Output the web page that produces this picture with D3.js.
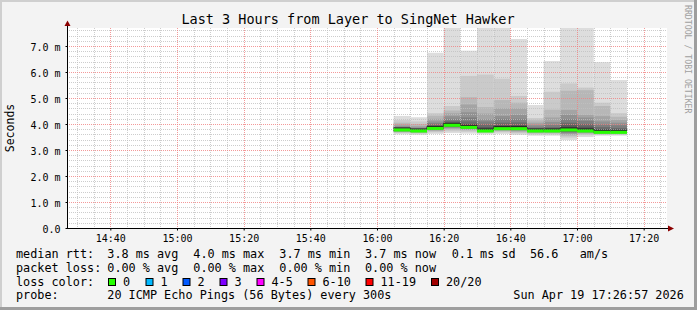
<!DOCTYPE html>
<html>
<head>
<meta charset="utf-8">
<script src="https://cdn.jsdelivr.net/npm/d3@7"></script>
<style>
  body { margin: 0; background: #f3f3f3; }
  text { font-family: "DejaVu Sans Mono", monospace; fill: #000; }
</style>
</head>
<body>
<svg id="chart" width="697" height="310"></svg>
<script>
// 5 minute slots (start time of each smoke bar)
let slotStarts = ["16:05", "16:10", "16:15", "16:20", "16:25", "16:30", "16:35",
                  "16:40", "16:45", "16:50", "16:55", "17:00", "17:05", "17:10"];

// median rtt per slot, ms
let medians = [3.77, 3.73, 3.83, 3.95, 3.87, 3.73, 3.82, 3.82, 3.73, 3.73, 3.77, 3.73, 3.68, 3.68];

// the 20 sorted ping times per slot, ms
let pings = [
  [3.60, 3.65, 3.68, 3.70, 3.72, 3.73, 3.74, 3.75, 3.76, 3.77, 3.78, 3.80, 3.82, 3.85, 3.88, 3.92, 3.98, 4.05, 4.15, 4.31],
  [3.58, 3.63, 3.66, 3.68, 3.69, 3.70, 3.71, 3.72, 3.72, 3.73, 3.74, 3.76, 3.78, 3.80, 3.83, 3.87, 3.92, 4.00, 4.10, 4.26],
  [3.62, 3.68, 3.72, 3.75, 3.77, 3.79, 3.80, 3.81, 3.82, 3.83, 3.85, 3.88, 3.92, 3.97, 4.03, 4.10, 4.20, 4.32, 4.42, 6.74],
  [3.65, 3.72, 3.78, 3.82, 3.85, 3.88, 3.90, 3.91, 3.93, 3.95, 3.97, 4.00, 4.05, 4.12, 4.20, 4.30, 4.41, 4.52, 4.69, 7.90],
  [3.63, 3.70, 3.75, 3.78, 3.80, 3.82, 3.84, 3.85, 3.86, 3.87, 3.89, 3.93, 4.00, 4.10, 4.25, 4.45, 4.75, 5.03, 5.85, 6.82],
  [3.60, 3.65, 3.68, 3.70, 3.71, 3.72, 3.72, 3.73, 3.73, 3.73, 3.75, 3.80, 3.88, 3.98, 4.10, 4.19, 4.40, 4.65, 5.90, 7.90],
  [3.62, 3.68, 3.72, 3.75, 3.77, 3.78, 3.79, 3.80, 3.81, 3.82, 3.83, 3.88, 3.95, 4.05, 4.20, 4.31, 4.60, 4.92, 5.74, 7.90],
  [3.58, 3.64, 3.68, 3.72, 3.75, 3.77, 3.78, 3.79, 3.80, 3.82, 3.83, 3.88, 3.96, 4.06, 4.20, 4.35, 4.60, 4.82, 5.08, 7.27],
  [3.55, 3.60, 3.64, 3.67, 3.69, 3.70, 3.71, 3.72, 3.72, 3.73, 3.74, 3.76, 3.79, 3.84, 3.90, 3.97, 4.05, 4.14, 4.23, 4.73],
  [3.55, 3.60, 3.64, 3.67, 3.69, 3.70, 3.71, 3.72, 3.72, 3.73, 3.75, 3.78, 3.82, 3.88, 3.96, 4.08, 4.25, 4.55, 5.24, 6.42],
  [3.38, 3.48, 3.55, 3.60, 3.64, 3.67, 3.70, 3.72, 3.74, 3.77, 3.80, 3.86, 3.95, 4.05, 4.19, 4.35, 4.54, 5.28, 5.56, 7.90],
  [3.50, 3.57, 3.62, 3.65, 3.68, 3.70, 3.71, 3.72, 3.72, 3.73, 3.76, 3.82, 3.90, 4.00, 4.12, 4.25, 4.35, 5.30, 5.40, 7.90],
  [3.55, 3.59, 3.61, 3.63, 3.65, 3.66, 3.67, 3.67, 3.68, 3.68, 3.70, 3.74, 3.80, 3.88, 3.98, 4.10, 4.30, 4.69, 4.82, 6.38],
  [3.55, 3.59, 3.61, 3.63, 3.65, 3.66, 3.67, 3.67, 3.68, 3.68, 3.70, 3.73, 3.78, 3.85, 3.95, 4.05, 4.15, 4.28, 4.42, 5.69]
];

let yTicks = [0, 1, 2, 3, 4, 5, 6, 7];
let xTickLabels = ["14:40", "15:00", "15:20", "15:40", "16:00", "16:20", "16:40", "17:00", "17:20"];

let lossLabels = ["0", "1", "2", "3", "4-5", "6-10", "11-19", "20/20"];
let lossColors = ["#26ff00", "#00b8ff", "#0059ff", "#7e00ff", "#ff00ff", "#ff5500", "#ff0000", "#a00000"];

let rttStats = ["3.8 ms avg", "4.0 ms max", "3.7 ms min", "3.7 ms now", "0.1 ms sd", "56.6   am/s"];
let lossStats = ["0.00 % avg", "0.00 % max", "0.00 % min", "0.00 % now"];
let probeText = "20 ICMP Echo Pings (56 Bytes) every 300s";
let stampText = "Sun Apr 19 17:26:57 2026";

let W = 697, H = 310;
let pLeft = 67, pRight = 667, pTop = 28, pBottom = 228;
let day = "2026-04-19 ";
let parse = d3.timeParse("%Y-%m-%d %H:%M");
let tStart = d3.timeParse("%Y-%m-%d %H:%M:%S")(day + "14:27:00");
let tEnd = d3.timeParse("%Y-%m-%d %H:%M:%S")(day + "17:27:00");
let step = 5 * 60 * 1000;

let svg = d3.select("#chart");

// frame
svg.append("rect").attr("x", 0).attr("y", 0).attr("width", W).attr("height", H).attr("fill", "#f3f3f3");
svg.append("rect").attr("x", 0).attr("y", 0).attr("width", W).attr("height", 2).attr("fill", "#cfcfcf");
svg.append("rect").attr("x", 0).attr("y", 0).attr("width", 2).attr("height", H).attr("fill", "#cfcfcf");
svg.append("rect").attr("x", 0).attr("y", H - 3).attr("width", W).attr("height", 3).attr("fill", "#9e9e9e");
svg.append("rect").attr("x", W - 3).attr("y", 0).attr("width", 3).attr("height", H).attr("fill", "#9e9e9e");

let xScale = d3.scaleTime().domain([tStart, tEnd]).range([pLeft, pRight]);
let yScale = d3.scaleLinear().domain([0, 200 / 26]).range([pBottom, pTop]);

// canvas
svg.append("rect").attr("x", pLeft).attr("y", pTop).attr("width", pRight - pLeft).attr("height", pBottom - pTop).attr("fill", "#fff");

svg.append("clipPath").attr("id", "plotClip")
  .append("rect").attr("x", pLeft).attr("y", pTop).attr("width", pRight - pLeft).attr("height", pBottom - pTop);

let plot = svg.append("g").attr("clip-path", "url(#plotClip)");

// smoke: band k between ping k and ping 21-k
let data = slotStarts.map((s, i) => ({ t: parse(day + s), med: medians[i], p: pings[i] }));
let half = 10;
for (let k = 1; k <= half; k++) {
  let c = Math.floor(190 / half * (half - k)) + 50;
  let col = d3.rgb(c, c, c).formatHex();
  plot.selectAll(null)
    .data(data)
    .enter()
    .append("rect")
    .attr("x", d => xScale(d.t))
    .attr("width", d => xScale(new Date(+d.t + step)) - xScale(d.t))
    .attr("y", d => yScale(d.p[20 - k]))
    .attr("height", d => yScale(d.p[k - 1]) - yScale(d.p[20 - k]))
    .attr("fill", col);
}

// grid
let hMinor = d3.range(0.2, 7.7, 0.2).filter(v => Math.abs(v - Math.round(v)) > 0.01);
let vMinor = d3.timeMinute.every(5).range(tStart, tEnd).filter(t => t.getMinutes() % 20 != 0);
let vMajor = xTickLabels.map(s => parse(day + s));

let grid = svg.append("g");
grid.selectAll(".hmin").data(hMinor).enter().append("line")
  .attr("x1", pLeft).attr("x2", pRight)
  .attr("y1", d => Math.round(yScale(d)) + 0.5).attr("y2", d => Math.round(yScale(d)) + 0.5)
  .attr("stroke", "#c0c0c0").attr("stroke-opacity", 0.8).attr("stroke-dasharray", "1,1");
grid.selectAll(".vmin").data(vMinor).enter().append("line")
  .attr("y1", pTop).attr("y2", pBottom)
  .attr("x1", d => Math.round(xScale(d)) + 0.5).attr("x2", d => Math.round(xScale(d)) + 0.5)
  .attr("stroke", "#c0c0c0").attr("stroke-opacity", 0.8).attr("stroke-dasharray", "1,1");
grid.selectAll(".hmaj").data(yTicks.slice(1)).enter().append("line")
  .attr("x1", pLeft).attr("x2", pRight)
  .attr("y1", d => Math.round(yScale(d)) + 0.5).attr("y2", d => Math.round(yScale(d)) + 0.5)
  .attr("stroke", "#f08080").attr("stroke-opacity", 0.8).attr("stroke-dasharray", "1,1");
grid.selectAll(".vmaj").data(vMajor).enter().append("line")
  .attr("y1", pTop).attr("y2", pBottom)
  .attr("x1", d => Math.round(xScale(d)) + 0.5).attr("x2", d => Math.round(xScale(d)) + 0.5)
  .attr("stroke", "#f08080").attr("stroke-opacity", 0.8).attr("stroke-dasharray", "1,1");

// median: thin dark step line + loss coloured band
let medPts = data.map(d => [xScale(d.t), yScale(d.med)]);
let lastD = data[data.length - 1];
medPts.push([xScale(new Date(+lastD.t + step)), yScale(lastD.med)]);
svg.append("path")
  .attr("d", d3.line().curve(d3.curveStepAfter)(medPts.map(p => [p[0], p[1] - 2])))
  .attr("fill", "none").attr("stroke", "#202020").attr("stroke-width", 1);
svg.selectAll(".med").data(data).enter().append("rect")
  .attr("x", d => xScale(d.t))
  .attr("width", d => xScale(new Date(+d.t + step)) - xScale(d.t))
  .attr("y", d => yScale(d.med) - 1.5)
  .attr("height", 3)
  .attr("fill", lossColors[0]);

// axes
let xAxis = d3.axisBottom(xScale).tickValues(vMajor).tickFormat(d3.timeFormat("%H:%M")).tickSize(2).tickSizeOuter(0);
let gx = svg.append("g").attr("transform", "translate(0," + (pBottom + 0.5) + ")").call(xAxis);
gx.select(".domain").remove();
gx.selectAll("text").attr("dy", null).attr("y", 13).style("font-size", "10px").style("font-family", "DejaVu Sans Mono");
gx.selectAll("line").attr("stroke", "#000");

let yAxis = d3.axisLeft(yScale).tickValues(yTicks).tickFormat(d => d == 0 ? "0.0" : d.toFixed(1) + " m").tickSize(2).tickSizeOuter(0);
let gy = svg.append("g").attr("transform", "translate(" + (pLeft + 0.5) + ",0)").call(yAxis);
gy.select(".domain").remove();
gy.selectAll("text").attr("dy", null).attr("x", -7).attr("y", 4).style("font-size", "10px").style("font-family", "DejaVu Sans Mono");
gy.selectAll("line").attr("stroke", "#000");

svg.append("line").attr("x1", pLeft + 0.5).attr("x2", pLeft + 0.5).attr("y1", pBottom).attr("y2", 22).attr("stroke", "#000");
svg.append("line").attr("x1", pLeft).attr("x2", 670).attr("y1", pBottom + 0.5).attr("y2", pBottom + 0.5).attr("stroke", "#000");
svg.append("path").attr("d", "M64.5,26L70.5,26L67.5,20.5Z").attr("fill", "#8b0000");
svg.append("path").attr("d", "M668,225.5L668,231.5L674,228.5Z").attr("fill", "#8b0000");

// titles
svg.append("text").attr("x", 348).attr("y", 24).attr("text-anchor", "middle")
  .style("font-size", "13.5px").text("Last 3 Hours from Layer to SingNet Hawker");
svg.append("text").attr("transform", "translate(14,128) rotate(-90)").attr("text-anchor", "middle")
  .style("font-size", "11.5px").text("Seconds");
svg.append("text").attr("transform", "translate(684.5,5) rotate(90)")
  .style("font-size", "8.2px").style("fill", "#a0a0a0").text("RRDTOOL / TOBI OETIKER");

// legend
let lf = "11.8px";
let legend = svg.append("g").style("font-size", lf);
let rowY = [258.3, 271.8, 285.5, 299.2];
let rttX = [107.3, 193.3, 279.3, 365, 451.7, 530];
legend.append("text").attr("x", 16).attr("y", rowY[0]).text("median rtt:");
legend.selectAll(".rtt").data(rttStats).enter().append("text")
  .attr("x", (d, i) => rttX[i]).attr("y", rowY[0]).attr("xml:space", "preserve").text(d => d);
legend.append("text").attr("x", 16).attr("y", rowY[1]).text("packet loss:");
legend.selectAll(".loss").data(lossStats).enter().append("text")
  .attr("x", (d, i) => rttX[i]).attr("y", rowY[1]).text(d => d);
legend.append("text").attr("x", 16).attr("y", rowY[2]).text("loss color:");
let boxX = [108, 145.5, 182.5, 219.5, 256.5, 307.5, 365.5, 431];
let items = legend.selectAll(".lc").data(lossLabels).enter().append("g");
items.append("rect")
  .attr("x", (d, i) => boxX[i] + 0.5).attr("y", 278.5).attr("width", 7).attr("height", 7)
  .attr("fill", (d, i) => lossColors[i]).attr("stroke", "#000").attr("stroke-width", 1);
items.append("text").attr("x", (d, i) => boxX[i] + 15).attr("y", rowY[2]).text(d => d);
legend.append("text").attr("x", 16).attr("y", rowY[3]).text("probe:");
legend.append("text").attr("x", 107.3).attr("y", rowY[3]).text(probeText);
legend.append("text").attr("x", 513.3).attr("y", rowY[3]).text(stampText);
</script>
</body>
</html>
